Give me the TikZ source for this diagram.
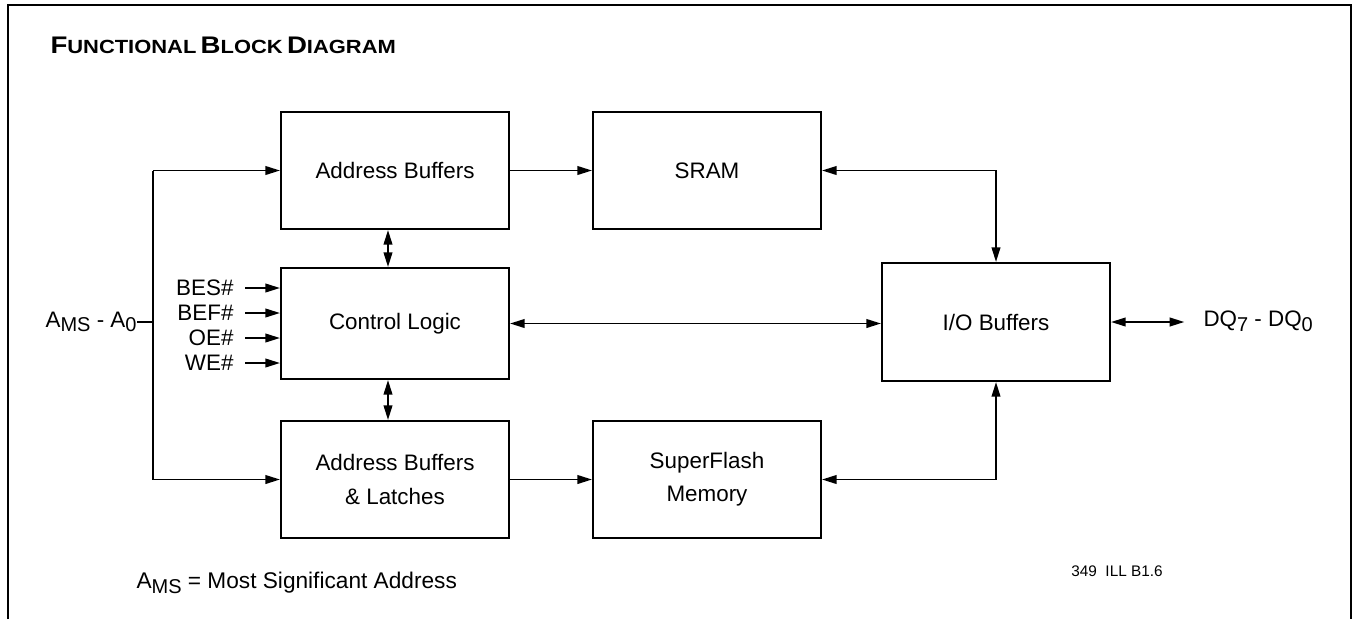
\documentclass[tikz,border=0pt]{standalone}
\usepackage{fontspec}
\setmainfont{Liberation Sans}
\newfontfamily\ttlfont[FakeStretch=1.15]{Liberation Sans Bold}
\usetikzlibrary{arrows.meta}

\tikzset{every picture/.style={line width=0.75pt}}
\tikzset{
  blk/.style={draw, line width=1.5pt, minimum width=171pt, minimum height=87.75pt,
    align=center, inner sep=0.75pt, font=\fontsize{16.8}{25}\selectfont},
  lbl/.style={inner sep=0.75pt, font=\fontsize{16.8}{20}\selectfont},
  wire/.style={line width=1.4pt},
  sig/.style={wire, -{Triangle[length=11pt,width=6.5pt]}},
  bidir/.style={wire, {Triangle[length=11pt,width=6.5pt]}-{Triangle[length=11pt,width=6.5pt]}},
}
\newcommand{\lowtxt}[1]{\raisebox{-3.5pt}{\fontsize{15}{15}\selectfont #1}}
\newcommand{\titlecaps}[2]{{\fontsize{18}{20}\selectfont #1}{\fontsize{14.3}{20}\selectfont #2}}

\begin{document}
\begin{tikzpicture}[x=0.75pt,y=0.75pt,yscale=-1,xscale=1]
\useasboundingbox (0,0) rectangle (1353,619);

%Shape: Frame
\draw [line width=2.2pt] (8,619) -- (8,5) -- (1351,5) -- (1351,619) ;

% Title
\node (title) [anchor=base west, inner sep=0pt] at (50,53) {\ttlfont\titlecaps{F}{UNCTIONAL} \titlecaps{B}{LOCK} \titlecaps{D}{IAGRAM}};

%Shape: Blocks
\node (ab) [blk] at (395,170.5) {Address Buffers};
\node (sram) [blk] at (707,170.5) {SRAM};
\node (ctrl) [blk, minimum height=83.25pt] at (395,323.5) {Control Logic};
\node (io) [blk, minimum height=88.5pt] at (996,322) {I/O Buffers};
\node (abl) [blk] at (395,479.5) {Address Buffers\\\& Latches};
\node (flash) [blk] at (707,479.5) {SuperFlash\\Memory};

% Text Node
\node (ams) [lbl, anchor=east, inner sep=0pt] at (137,322) {A\lowtxt{MS} - A\lowtxt{0}};
\coordinate (bus) at (153,322);
% Text Node
\node (bes) [lbl, anchor=east] at (235,288) {BES\#};
\node (bef) [lbl, anchor=east] at (235,313) {BEF\#};
\node (oe) [lbl, anchor=east] at (235,338) {OE\#};
\node (we) [lbl, anchor=east] at (235,363) {WE\#};
% Text Node
\node (dq) [lbl, anchor=west, inner sep=0pt] at (1203,321) {DQ\lowtxt{7} - DQ\lowtxt{0}};
% Text Node
\node (ill) [inner sep=0.75pt, font=\fontsize{11.5}{14}\selectfont] at (1117,571) {349~~ILL B1.6};
% Text Node
\node (note) [lbl, anchor=west, font=\fontsize{17}{20}\selectfont] at (135,583) {A\lowtxt{MS} = Most Significant Address};

% Address bus
\draw [wire] (ams.east) -- (ams.east -| bus) ;
\draw [wire] (bus |- ab.west) -- (bus |- abl.west) ;
\draw [sig] (bus |- ab.west) -- (ab.west) ;
\draw [sig] (bus |- abl.west) -- (abl.west) ;

% Control inputs
\draw [sig, shorten <=7.5pt] (bes.east) -- (bes.east -| ctrl.west) ;
\draw [sig, shorten <=7.5pt] (bef.east) -- (bef.east -| ctrl.west) ;
\draw [sig, shorten <=7.5pt] (oe.east) -- (oe.east -| ctrl.west) ;
\draw [sig, shorten <=7.5pt] (we.east) -- (we.east -| ctrl.west) ;

% Data paths
\draw [sig] (ab.east) -- (sram.west) ;
\draw [sig] (abl.east) -- (flash.west) ;
\draw [bidir] ([xshift=-5.25pt]ab.south) -- ([xshift=-5.25pt]ab.south |- ctrl.north) ;
\draw [bidir] ([xshift=-5.25pt]ctrl.south) -- ([xshift=-5.25pt]ctrl.south |- abl.north) ;
\draw [bidir] (sram.east) -| (io.north) ;
\draw [bidir] (flash.east) -| (io.south) ;
\draw [bidir] (ctrl.east) -- (ctrl.east -| io.west) ;
\draw [bidir, shorten >=14pt] (io.east) -- (io.east -| dq.west) ;
\end{tikzpicture}
\end{document}
